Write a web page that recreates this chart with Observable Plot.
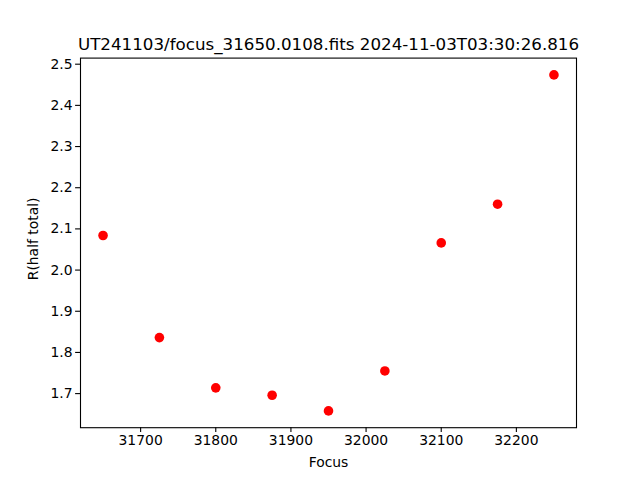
<!DOCTYPE html>
<html>
<head>
<meta charset="utf-8">
<script src="https://cdn.jsdelivr.net/npm/d3@7"></script>
<script src="https://cdn.jsdelivr.net/npm/@observablehq/plot@0.6"></script>
<style>
  html, body { margin: 0; padding: 0; background: white; }
</style>
</head>
<body>
<div id="chart"></div>
<script>
const focus = [31650, 31725, 31800, 31875, 31950, 32025, 32100, 32175, 32250];
const rHalf = [2.084, 1.836, 1.714, 1.696, 1.658, 1.755, 2.066, 2.160, 2.474];
const xTicks = [31700, 31800, 31900, 32000, 32100, 32200];
const yTicks = [1.7, 1.8, 1.9, 2.0, 2.1, 2.2, 2.3, 2.4, 2.5];
const titleText = "UT241103/focus_31650.0108.fits 2024-11-03T03:30:26.816";
const xLabel = "Focus";
const yLabel = "R(half total)";

const data = focus.map((f, i) => ({focus: f, r: rHalf[i]}));
const ymin = d3.min(rHalf), ymax = d3.max(rHalf);
const xmin = d3.min(focus), xmax = d3.max(focus);
const ypad = (ymax - ymin) * 0.05, xpad = (xmax - xmin) * 0.05;

const chart = Plot.plot({
  width: 640,
  height: 480,
  marginLeft: 80,
  marginRight: 64,
  marginTop: 57.6,
  marginBottom: 52.8,
  style: {fontFamily: "DejaVu Sans", fontSize: "13.9px", background: "white", color: "black"},
  x: {domain: [xmin - xpad, xmax + xpad]},
  y: {domain: [ymin - ypad, ymax + ypad]},
  marks: [
    Plot.axisX({ticks: xTicks, tickSize: 4.9, tickPadding: 3, tickFormat: d3.format("d"), label: null, strokeWidth: 1.1, fontSize: 13.9}),
    Plot.axisY({ticks: yTicks, tickSize: 4.9, tickPadding: 3, tickFormat: d3.format(".1f"), label: null, strokeWidth: 1.1, fontSize: 13.9}),
    Plot.dot(data, {x: "focus", y: "r", r: 4.8, fill: "red", stroke: "none"}),
    Plot.frame({stroke: "black", strokeWidth: 1.1}),
    Plot.text([titleText], {frameAnchor: "top", dy: -13, lineAnchor: "middle", fontSize: 16.7, fill: "black"}),
    Plot.text([xLabel], {frameAnchor: "bottom", dy: 35, lineAnchor: "middle", fontSize: 13.9, fill: "black"}),
    Plot.text([yLabel], {frameAnchor: "left", textAnchor: "middle", dx: -47, dy: -4, rotate: -90, lineAnchor: "middle", fontSize: 13.9, fill: "black"})
  ]
});
document.getElementById("chart").appendChild(chart);
</script>
</body>
</html>
